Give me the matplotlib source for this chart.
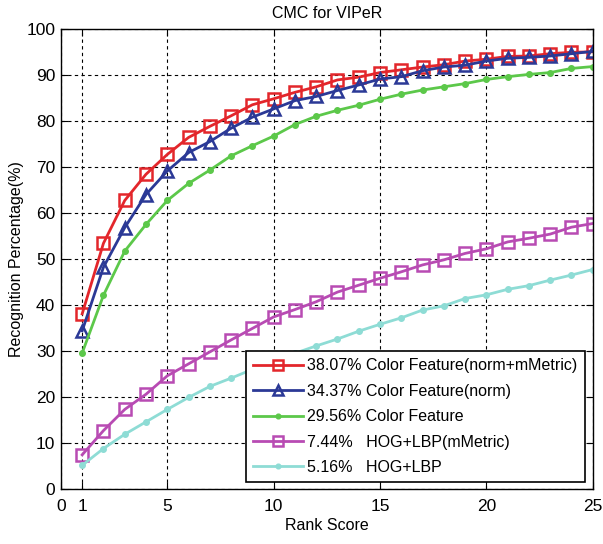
import numpy as np
import matplotlib
matplotlib.use("Agg")
import matplotlib.pyplot as plt

plt.rcParams["font.family"] = ["Liberation Sans", "DejaVu Sans"]

ranks = list(range(1, 26))

norm_mmetric = [38.07, 53.4, 62.7, 68.4, 72.7, 76.4, 78.8, 81.1, 83.5, 84.8, 86.2,
                87.4, 88.9, 89.5, 90.5, 91.1, 91.7, 92.2, 93.0, 93.4, 94.0, 94.1,
                94.6, 94.9, 95.0]
norm = [34.37, 48.2, 56.8, 64.0, 69.1, 73.1, 75.5, 78.4, 80.8, 82.6, 84.4,
        85.3, 86.6, 87.8, 89.1, 89.6, 90.9, 91.7, 92.1, 93.0, 93.6, 93.8,
        94.1, 94.6, 95.1]
color_feat = [29.56, 42.1, 51.7, 57.5, 62.7, 66.4, 69.3, 72.4, 74.6, 76.7, 79.2,
              81.0, 82.3, 83.4, 84.7, 85.8, 86.7, 87.4, 88.1, 89.0, 89.6, 90.1,
              90.5, 91.4, 91.8]
hog_mmetric = [7.44, 12.7, 17.3, 20.6, 24.6, 27.2, 29.8, 32.4, 34.9, 37.4, 39.0,
               40.7, 42.8, 44.3, 45.8, 47.2, 48.7, 49.8, 51.2, 52.2, 53.7, 54.5,
               55.4, 56.9, 57.7]
hog = [5.16, 8.8, 11.9, 14.6, 17.3, 19.9, 22.3, 24.1, 26.0, 27.8, 29.5,
       31.1, 32.6, 34.3, 35.8, 37.2, 38.9, 39.8, 41.4, 42.2, 43.4, 44.2,
       45.4, 46.5, 47.7]

labels = ["38.07% Color Feature(norm+mMetric)",
          "34.37% Color Feature(norm)",
          "29.56% Color Feature",
          "7.44%   HOG+LBP(mMetric)",
          "5.16%   HOG+LBP"]

fig = plt.figure(figsize=(6.03, 5.44), dpi=100)
ax = fig.add_axes([0.101, 0.101, 0.882, 0.846])

ax.plot(ranks, norm_mmetric, "-s", color="#e3262b", lw=2, ms=8, mfc="none", mew=1.8, label=labels[0])
ax.plot(ranks, norm, "-^", color="#2b3996", lw=2, ms=8.5, mfc="none", mew=1.8, label=labels[1])
ax.plot(ranks, color_feat, "-o", color="#5cc84a", lw=2, ms=4, label=labels[2])
ax.plot(ranks, hog_mmetric, "-s", color="#b84bb3", lw=2, ms=8, mfc="none", mew=1.8, label=labels[3])
ax.plot(ranks, hog, "-o", color="#8edcd5", lw=2, ms=4, label=labels[4])

ax.set_xlim(0, 25)
ax.set_ylim(0, 100)
ax.set_xticks([0, 1, 5, 10, 15, 20, 25])
ax.set_yticks(np.arange(0, 101, 10))
ax.grid(True, color="black", linestyle=(0, (3, 3)), linewidth=0.8)
ax.tick_params(direction="in", top=True, right=True, length=5, labelsize=12.5)
ax.tick_params(axis="y", pad=4)
ax.tick_params(axis="x", pad=7)
for s in ax.spines.values():
    s.set_linewidth(1.0)

ax.set_title("CMC for VIPeR", fontsize=11.5, pad=8)
ax.set_xlabel("Rank Score", fontsize=11.5, labelpad=3)
ax.set_ylabel("Recognition Percentage(%)", fontsize=11.5, labelpad=2)

leg = ax.legend(loc="lower right", bbox_to_anchor=(0.985, 0.015), fontsize=11.5,
                frameon=True, fancybox=False, framealpha=1, edgecolor="black",
                borderpad=0.45, labelspacing=0.65, handlelength=3.1, handletextpad=0.3,
                markerscale=0.85, borderaxespad=0)
leg.get_frame().set_linewidth(1.2)

fig.savefig("out.png", dpi=100)
